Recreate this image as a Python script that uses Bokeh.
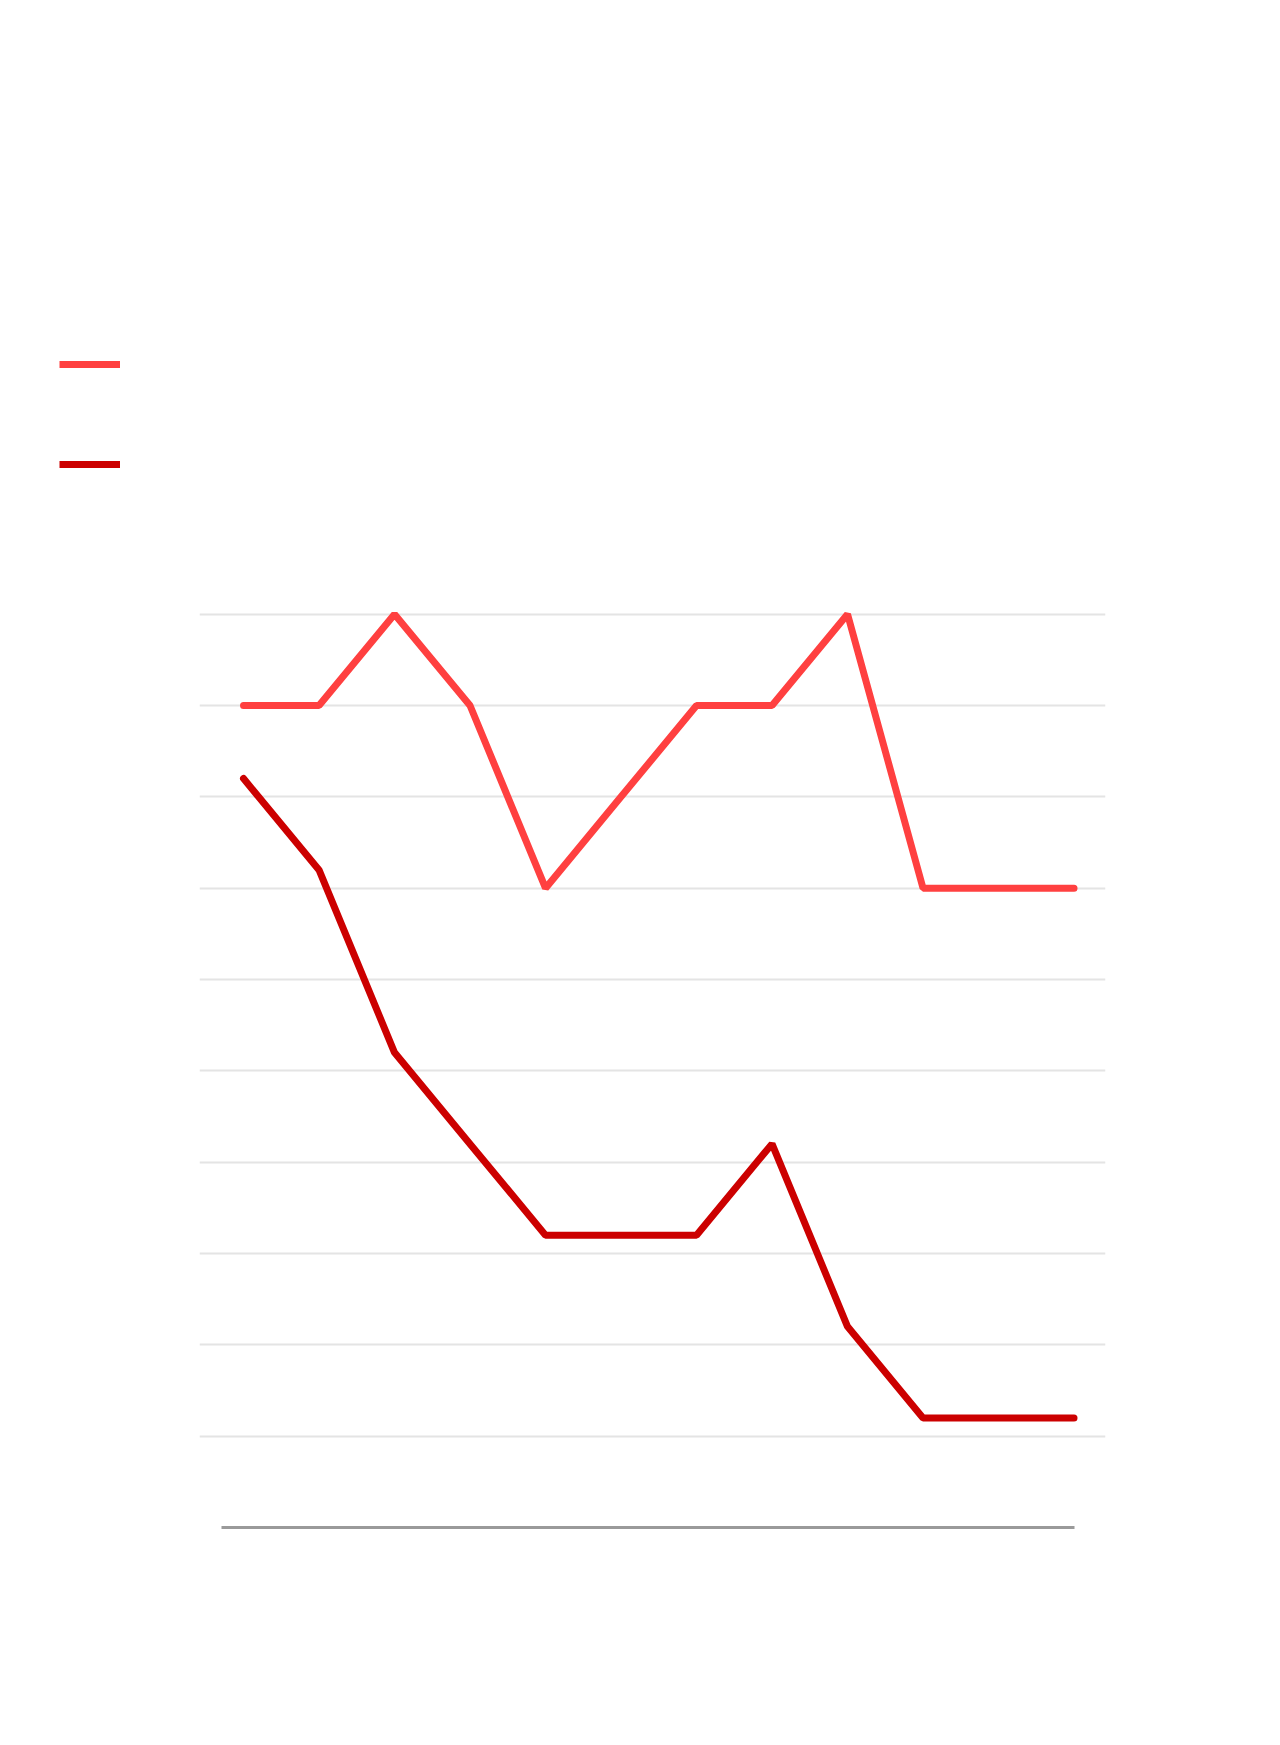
from bokeh.plotting import figure
from bokeh.layouts import column
from bokeh.models import Range1d, FixedTicker, Legend, LegendItem
from bokeh.embed import file_html
from bokeh.resources import INLINE

# Data (12 periods, no labels shown in the reference)
periods = list(range(12))
series_a = [9, 9, 10, 9, 7, 8, 9, 9, 10, 7, 7, 7]
series_b = [8.2, 7.2, 5.2, 4.2, 3.2, 3.2, 3.2, 4.2, 2.2, 1.2, 1.2, 1.2]
grid_levels = [1, 2, 3, 4, 5, 6, 7, 8, 9, 10]

color_a = "#FF4040"
color_b = "#CC0000"

# --- legend strip (top area of the chart) ---
# The series are attached here only so the legend has renderers to draw
# its swatches from; the ranges keep the lines themselves out of view.
lg = figure(
    width=1264, height=568,
    min_border_left=0, min_border_top=0, min_border_right=0, min_border_bottom=0,
    x_range=Range1d(0, 1), y_range=Range1d(-2, -1),
    output_backend="svg", toolbar_location=None,
)
lg.axis.visible = False
lg.grid.visible = False
lg.outline_line_color = None
la = lg.line(periods, series_a, line_color=color_a, line_width=7, line_cap="butt")
lb = lg.line(periods, series_b, line_color=color_b, line_width=7, line_cap="butt")
legend = Legend(
    items=[LegendItem(label=" ", renderers=[la]), LegendItem(label=" ", renderers=[lb])],
    location=(59, 94),
    glyph_width=61, glyph_height=20, label_height=20, label_width=0,
    label_standoff=0, spacing=80, padding=0, margin=0,
    label_text_font_size="1px",
    border_line_color=None, background_fill_alpha=0,
)
lg.add_layout(legend, "center")

# --- main chart ---
p = figure(
    width=1264, height=1161,
    frame_width=906, frame_height=959,
    min_border_left=199, min_border_top=0,
    min_border_right=159, min_border_bottom=202,
    x_range=Range1d(-0.583, 11.417), y_range=Range1d(0, 10.5),
    output_backend="svg", toolbar_location=None,
)
p.outline_line_color = None
p.background_fill_color = "white"
p.border_fill_color = "white"

p.xgrid.visible = False
p.ygrid.ticker = FixedTicker(ticks=grid_levels)
p.ygrid.grid_line_color = "#E4E4E4"
p.ygrid.grid_line_width = 2

p.yaxis.visible = False
p.xaxis.ticker = FixedTicker(ticks=[])
p.xaxis.bounds = (-0.29, 11.0)
p.xaxis.axis_line_color = "#9A9A9A"
p.xaxis.axis_line_width = 3
p.xaxis.major_tick_line_color = None
p.xaxis.minor_tick_line_color = None
p.xaxis.major_label_text_font_size = "0px"

p.line(periods, series_a, line_color=color_a, line_width=7, line_cap="round")
p.line(periods, series_b, line_color=color_b, line_width=7, line_cap="round")

layout = column(column(lg, spacing=0), column(p, spacing=0), spacing=0)
open("out.html", "w").write(file_html(layout, INLINE))
